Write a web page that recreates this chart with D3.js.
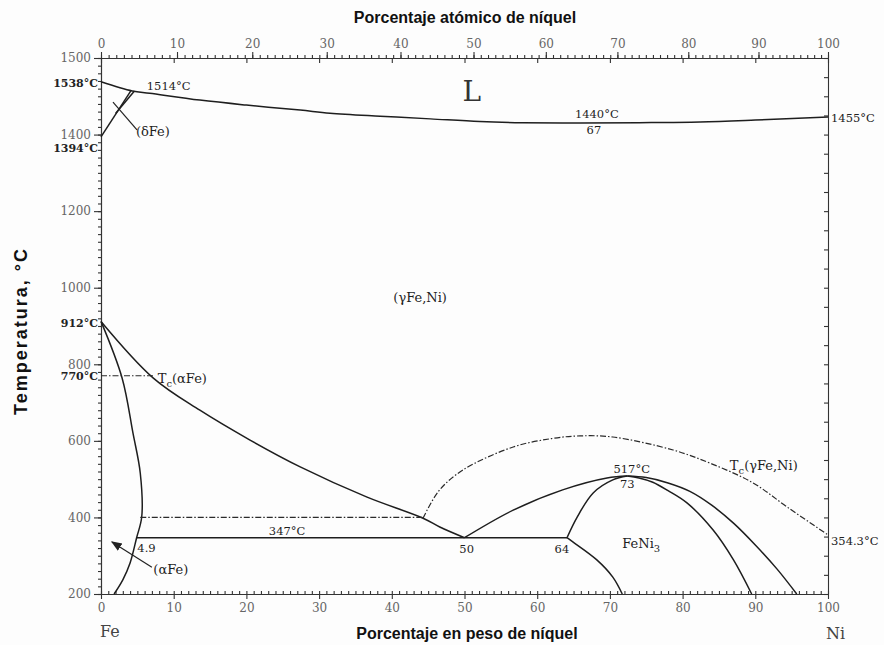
<!DOCTYPE html>
<html>
<head>
<meta charset="utf-8">
<script src="https://cdn.jsdelivr.net/npm/d3@7"></script>
<style>
body { margin: 0; background: #fff; }
svg { display: block; background: #fdfdfd; }
.tick text { font-family: "DejaVu Serif"; font-size: 12px; fill: #666; }
.domain, .tick line { stroke: #333; stroke-width: 1.1; }
</style>
</head>
<body>
<svg id="chart" width="884" height="645"></svg>
<script>

// phase boundaries, [peso % Ni, temperatura °C]
var liquidus = [[0,1538],[4.3,1514],[6.7,1508],[13.6,1490],[20,1477],[27.4,1464],[31.5,1456],[38.4,1448],[45.3,1441],[52.1,1434],[58,1431],[65.9,1430],[74,1431],[82.4,1433],[90,1438],[100,1446]];
var deltaA = [[0,1394],[4.1,1514]];
var deltaB = [[2.0,1455],[4.6,1514]];
var gammaBoundary = [[0,912],[7.2,764],[13.6,680],[20.5,602],[27.4,532],[36.6,453],[44.3,398],[46.6,375],[50,347]];
var alphaBoundary = [[0,912],[2.9,764],[4.4,620],[5.4,516],[5.6,401],[4.9,347],[4.0,281],[3.0,237],[1.8,200]];
var eutectoid = [[4.9,347],[64.1,347]];
var feni3Left = [[50,347],[56.7,419],[63.5,472],[69.6,503],[72.4,508]];
var feni3Inner = [[64.1,347],[65.5,401],[67.7,464],[70.4,498],[72.4,508]];
var feni3Lower = [[64.1,347],[64.9,336],[68.2,289],[70.4,244],[71.7,200]];
var rightOuter = [[72.4,508],[75,504],[78,490],[81,468],[84,432],[87,385],[90,328],[93,265],[95.7,200]];
var rightInner = [[72.4,508],[74,503],[75.9,492],[78,470],[80.6,438],[84.2,367],[87.0,289],[89.5,200]];

// magnetic transitions (dash-dot)
var tcAlpha = [[0,770],[7.2,770]];
var mag400 = [[5.4,400],[44.3,400]];
var tcGamma = [[44.3,398],[46.5,470],[49.8,524],[56.7,584],[62,606],[65.9,613],[70.4,610],[78.7,576],[84,540],[89.7,490],[94.4,427],[100,354.3]];

// axes
var wtTicks = [0,10,20,30,40,50,60,70,80,90,100];
var atTicks = [0,10,20,30,40,50,60,70,80,90,100];
var tempTicks = [200,400,600,800,1000,1200,1400,1600];
var tempTickLabels = ["200","400","600","800","1000","1200","1400","1500"];

// annotations: text, peso %, °C
var labels = [
  ["1514°C", 6.3, 1516, "start"],
  ["1440°C", 68.2, 1443, "middle"],
  ["67", 67.8, 1401, "middle"],
  ["(δFe)", 4.8, 1396, "start"],
  ["(γFe,Ni)", 43.9, 963, "middle"],
  ["T_{c}(αFe)", 7.8, 751, "start"],
  ["T_{c}(γFe,Ni)", 86.5, 524, "start"],
  ["517°C", 73.0, 516, "middle"],
  ["73", 72.4, 477, "middle"],
  ["347°C", 25.6, 354, "middle"],
  ["4.9", 5.0, 310, "start"],
  ["50", 50.3, 307, "middle"],
  ["64", 63.4, 307, "middle"],
  ["FeNi_{3}", 71.7, 320, "start"],
  ["(αFe)", 7.2, 252, "start"]
];
var leftLabels = [["1538°C", 1524], ["1394°C", 1354], ["912°C", 897], ["770°C", 759]];
var rightLabels = [["1455°C", 1433], ["354.3°C", 328]];
var leaders = [[[1.65,1485],[4.95,1412]]];
var arrows = [[[7.0,270],[1.5,336]]];

var svg = d3.select("#chart");

var x = d3.scaleLinear().domain([0,100]).range([101,828]);
var y = d3.scaleLinear().domain([200,1600]).range([594,58]);

// atomic % -> weight %
function atToWt(a){
	var ni = a*58.69, fe = (100-a)*55.85;
	return 100*ni/(ni+fe);
}
var atFine = d3.range(0,101,1);
var xAt = d3.scaleLinear().domain(atFine).range(atFine.map(function(a){ return x(atToWt(a)); }));

// bottom axis
svg.append("g").attr("transform","translate(0,594)")
	.call(d3.axisBottom(x).tickValues(d3.range(0,101,1)).tickSize(-3).tickSizeOuter(0).tickFormat(""));
svg.append("g").attr("transform","translate(0,594)")
	.call(d3.axisBottom(x).tickValues(wtTicks).tickSize(5).tickSizeOuter(0).tickPadding(4));

// top axis (atomic)
svg.append("g").attr("transform","translate(0,58)")
	.call(d3.axisTop(xAt).tickValues(atFine).tickSize(3).tickSizeOuter(0).tickFormat(""));
svg.append("g").attr("transform","translate(0,58)")
	.call(d3.axisTop(xAt).tickValues(atTicks).tickSize(6).tickSizeOuter(0).tickPadding(4));
svg.append("g").attr("transform","translate(0,58)")
	.call(d3.axisTop(x).tickValues(wtTicks).tickSize(-5).tickSizeOuter(0).tickFormat(""));

// left axis
svg.append("g").attr("transform","translate(101,0)")
	.call(d3.axisLeft(y).tickValues(d3.range(200,1601,20)).tickSize(3).tickSizeOuter(0).tickFormat(""));
svg.append("g").attr("transform","translate(101,0)")
	.call(d3.axisLeft(y).tickValues(tempTicks).tickSize(7).tickSizeOuter(0).tickPadding(3)
		.tickFormat(function(d,i){ return tempTickLabels[i]; }));

// right axis
svg.append("g").attr("transform","translate(828,0)")
	.call(d3.axisRight(y).tickValues(d3.range(200,1601,50)).tickSize(-4).tickSizeOuter(0).tickFormat(""));

// curves
var line = d3.line()
	.x(function(d){ return x(d[0]); })
	.y(function(d){ return y(d[1]); })
	.curve(d3.curveCatmullRom.alpha(0.5));

var solid = [liquidus, deltaA, deltaB, gammaBoundary, alphaBoundary, eutectoid,
	feni3Left, feni3Inner, feni3Lower, rightOuter, rightInner];
var dashed = [tcAlpha, mag400, tcGamma];

svg.append("g").selectAll("path").data(solid).enter()
	.append("path")
	.attr("d", line)
	.attr("fill", "none")
	.attr("stroke", "#1e1e1e")
	.attr("stroke-width", 1.5);

svg.append("g").selectAll("path").data(dashed).enter()
	.append("path")
	.attr("d", line)
	.attr("fill", "none")
	.attr("stroke", "#2a2a2a")
	.attr("stroke-width", 1.2)
	.attr("stroke-dasharray", "6,2,1.5,2");

svg.append("defs").append("marker")
	.attr("id", "arr").attr("viewBox", "0 0 10 10")
	.attr("refX", 9).attr("refY", 5)
	.attr("markerWidth", 9).attr("markerHeight", 9)
	.attr("orient", "auto")
	.append("path").attr("d", "M0,1L10,5L0,9Z").attr("fill", "#222");

svg.append("g").selectAll("path").data(leaders).enter()
	.append("path")
	.attr("d", d3.line().x(function(d){ return x(d[0]); }).y(function(d){ return y(d[1]); }))
	.attr("stroke", "#222").attr("stroke-width", 1.2);

svg.append("g").selectAll("path").data(arrows).enter()
	.append("path")
	.attr("d", d3.line().x(function(d){ return x(d[0]); }).y(function(d){ return y(d[1]); }))
	.attr("stroke", "#222").attr("stroke-width", 1.2)
	.attr("marker-end", "url(#arr)");

// text with _{sub}
function richText(sel, str){
	var parts = str.split(/_\{([^}]*)\}/);
	parts.forEach(function(p, i){
		if(p === "") return;
		if(i % 2 === 1){
			sel.append("tspan").attr("dy", 4).attr("font-size", "10px").text(p);
		} else {
			sel.append("tspan").attr("dy", i > 0 ? -4 : 0).text(p);
		}
	});
}

svg.append("g").selectAll("text").data(labels).enter()
	.append("text")
	.attr("x", function(d){ return x(d[1]); })
	.attr("y", function(d){ return y(d[2]); })
	.attr("text-anchor", function(d){ return d[3]; })
	.attr("font-family", "DejaVu Serif")
	.attr("font-size", function(d){
		return (d[0].indexOf("(") >= 0 || d[0].indexOf("FeNi") === 0) ? "13px" : "11.5px";
	})
	.attr("fill", "#1e1e1e")
	.each(function(d){ richText(d3.select(this), d[0]); });

svg.append("g").selectAll("text").data(leftLabels).enter()
	.append("text")
	.attr("x", x(0) - 3)
	.attr("y", function(d){ return y(d[1]); })
	.attr("text-anchor", "end")
	.attr("font-family", "DejaVu Serif")
	.attr("font-weight", "bold")
	.attr("font-size", "11px")
	.attr("fill", "#222")
	.text(function(d){ return d[0]; });

svg.append("g").selectAll("text").data(rightLabels).enter()
	.append("text")
	.attr("x", x(100) + 3)
	.attr("y", function(d){ return y(d[1]); })
	.attr("font-family", "DejaVu Serif")
	.attr("font-size", "11.5px")
	.attr("fill", "#222")
	.text(function(d){ return d[0]; });

// big region label and element names
svg.append("text").attr("x", x(51)).attr("y", y(1487))
	.attr("text-anchor", "middle")
	.attr("font-family", "DejaVu Serif").attr("font-size", "28px")
	.attr("fill", "#333").text("L");

svg.append("text").attr("x", x(0) - 1).attr("y", 637)
	.attr("font-family", "DejaVu Serif").attr("font-size", "16px")
	.attr("fill", "#444").text("Fe");
svg.append("text").attr("x", x(100) - 2).attr("y", 639)
	.attr("font-family", "DejaVu Serif").attr("font-size", "16px")
	.attr("fill", "#444").text("Ni");

// titles
svg.append("text").attr("x", 465).attr("y", 23)
	.attr("text-anchor", "middle")
	.attr("font-family", "Liberation Sans").attr("font-weight", "bold").attr("font-size", "16px")
	.attr("fill", "#111").text("Porcentaje atómico de níquel");
svg.append("text").attr("x", 467).attr("y", 639)
	.attr("text-anchor", "middle")
	.attr("font-family", "Liberation Sans").attr("font-weight", "bold").attr("font-size", "16px")
	.attr("fill", "#111").text("Porcentaje en peso de níquel");
svg.append("text")
	.attr("transform", "translate(27,331) rotate(-90)")
	.attr("text-anchor", "middle")
	.attr("font-family", "Liberation Sans").attr("font-weight", "bold").attr("font-size", "18px")
	.attr("letter-spacing", "2px")
	.attr("fill", "#111").text("Temperatura, °C");

</script>
</body>
</html>
